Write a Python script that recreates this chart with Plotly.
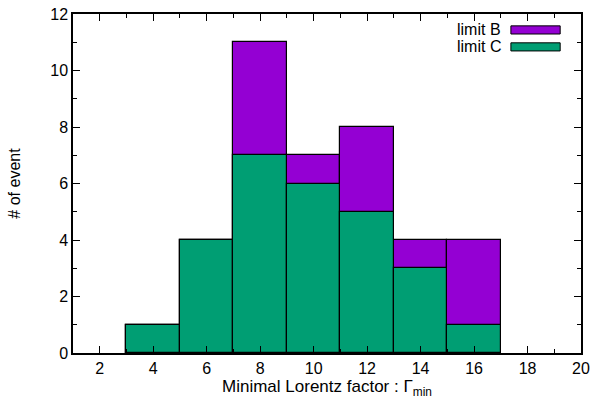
import plotly.graph_objects as go

bin_centers = [4, 6, 8, 10, 12, 14, 16]
limit_B = [1, 4, 11, 7, 8, 4, 4]
limit_C = [1, 4, 7, 6, 5, 3, 1]
series_names = ["limit B", "limit C"]
series_colors = ["#9400D3", "#009E73"]
x_ticks = [2, 4, 6, 8, 10, 12, 14, 16, 18, 20]
y_ticks = [0, 2, 4, 6, 8, 10, 12]

font = dict(family="Liberation Sans, Arial, Helvetica, sans-serif", size=16, color="black")
title_font = dict(font, size=17)

fig = go.Figure()
for name, vals, col in zip(series_names, [limit_B, limit_C], series_colors):
    fig.add_trace(go.Bar(x=bin_centers, y=vals, width=2, name=name,
                         marker=dict(color=col, line=dict(color="black", width=1.2)),
                         showlegend=False))

axis_common = dict(showline=True, linecolor="black", linewidth=1.5, mirror="allticks",
                   ticks="inside", ticklen=7, tickcolor="black", tickwidth=1,
                   showgrid=False, zeroline=False, tickfont=font, automargin=False)
fig.update_xaxes(range=[1, 20], tickvals=x_ticks,
                 minor=dict(ticks="inside", dtick=1, tick0=1, ticklen=4, tickcolor="black", tickwidth=1),
                 title=dict(text="Minimal Lorentz factor : Γ<sub>min</sub>", font=title_font, standoff=4),
                 **axis_common)
fig.update_yaxes(range=[0, 12], tickvals=y_ticks,
                 minor=dict(ticks="inside", dtick=1, tick0=0, ticklen=4, tickcolor="black", tickwidth=1),
                 title=dict(text="# of event", font=font, standoff=26),
                 **axis_common)

# legend drawn gnuplot-style: text then key box
for i, (name, col) in enumerate(zip(series_names, series_colors)):
    yc = 0.953 - i * 0.05
    fig.add_annotation(xref="paper", yref="paper", x=0.846, y=yc, text=name,
                       showarrow=False, xanchor="right", yanchor="middle", font=font)
    fig.add_shape(type="rect", xref="paper", yref="paper",
                  x0=0.862, x1=0.959, y0=yc - 0.012, y1=yc + 0.012,
                  fillcolor=col, line=dict(color="black", width=1))

fig.update_layout(width=593, height=406, barmode="overlay", bargap=0,
                  plot_bgcolor="white", paper_bgcolor="white",
                  margin=dict(l=73, r=12, t=14, b=53), font=font)
fig.write_html("out.html", config={"displayModeBar": False},
               post_script="document.body.style.margin='0';document.body.style.overflow='hidden';")
